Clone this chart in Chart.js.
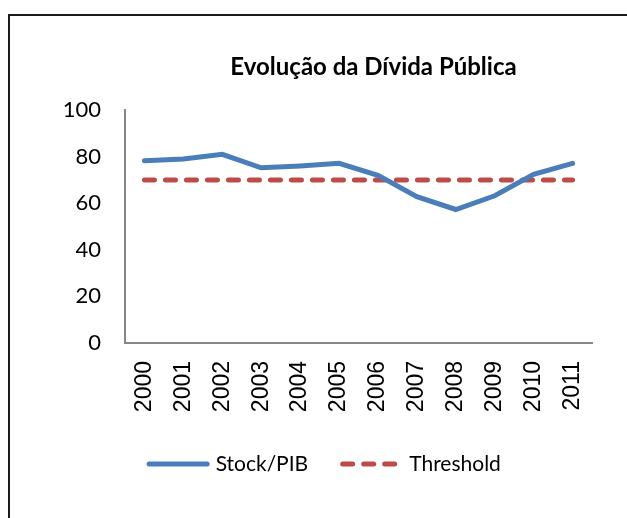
<!DOCTYPE html>
<html>
<head>
<meta charset="utf-8">
<script src="https://cdn.jsdelivr.net/npm/chart.js@4.4.1/dist/chart.umd.min.js"></script>
<style>
    html, body { margin: 0; padding: 0; background: #fff; overflow: hidden; }
    #frame {
        position: absolute; left: 8px; top: 14px;
        width: 700px; height: 600px;
        border: 2px solid #1a1a1a;
    }
    #chart { position: absolute; left: 0; top: 0; }
</style>
</head>
<body>
<div id="frame"></div>
<canvas id="chart" width="627" height="518"></canvas>
<script>
const years = ['2000', '2001', '2002', '2003', '2004', '2005', '2006', '2007', '2008', '2009', '2010', '2011'];
const stockPib = [78.2, 79, 81, 75.2, 76, 77.1, 72, 62.8, 57.3, 63.2, 72.4, 77.1];
const threshold = [70, 70, 70, 70, 70, 70, 70, 70, 70, 70, 70, 70];
const yTicks = [0, 20, 40, 60, 80, 100];
const chartTitle = 'Evolução da Dívida Pública';

// title is offset to the right of the canvas centre, as in the original
const titlePlugin = {
    id: 'offsetTitle',
    afterDraw(chart) {
        const c = chart.ctx;
        c.save();
        c.font = 'bold 24px Lato';
        c.fillStyle = '#000';
        c.textAlign = 'center';
        c.textBaseline = 'alphabetic';
        c.fillText(chartTitle, 373.5, 75);
        c.restore();
    }
};

// line-sample legend (built-in one drops the dash pattern with point styles)
const legendPlugin = {
    id: 'lineLegend',
    afterDraw(chart) {
        const c = chart.ctx;
        const sample = 58, textGap = 8.5, itemGap = 34.5, y = 464, centre = 325;
        c.save();
        c.font = '21px Lato';
        c.textBaseline = 'middle';
        c.textAlign = 'left';
        const items = chart.data.datasets.map(ds => ({ ds, w: c.measureText(ds.label).width }));
        let total = items.reduce((s, it) => s + sample + textGap + it.w, 0) + itemGap * (items.length - 1);
        let x = centre - total / 2;
        items.forEach(({ ds, w }) => {
            c.beginPath();
            c.strokeStyle = ds.borderColor;
            c.lineWidth = ds.borderWidth;
            c.lineCap = ds.borderCapStyle || 'butt';
            c.setLineDash(ds.borderDash || []);
            c.moveTo(x, y);
            c.lineTo(x + sample, y);
            c.stroke();
            c.setLineDash([]);
            c.fillStyle = '#000';
            c.fillText(ds.label, x + sample + textGap, y);
            x += sample + textGap + w + itemGap;
        });
        c.restore();
    }
};

const ctx = document.getElementById('chart').getContext('2d');
new Chart(ctx, {
    type: 'line',
    data: {
        labels: years,
        datasets: [
            {
                label: 'Stock/PIB',
                data: stockPib,
                borderColor: '#4A7EBB',
                backgroundColor: '#4A7EBB',
                borderWidth: 5,
                borderCapStyle: 'round',
                pointRadius: 0,
                tension: 0
            },
            {
                label: 'Threshold',
                data: threshold,
                borderColor: '#BE4B48',
                backgroundColor: '#BE4B48',
                borderWidth: 5,
                borderDash: [10, 11],
                borderCapStyle: 'round',
                pointRadius: 0
            }
        ]
    },
    options: {
        responsive: false,
        animation: false,
        devicePixelRatio: 1,
        layout: { padding: { left: 0, right: 35, top: 110, bottom: 75 } },
        plugins: {
            title: { display: false },
            legend: { display: false },
            tooltip: { enabled: false }
        },
        scales: {
            x: {
                offset: true,
                grid: { display: false, drawTicks: false },
                border: { display: true, color: '#868686', width: 2 },
                ticks: {
                    color: '#000',
                    font: { family: 'Liberation Sans', size: 23 },
                    minRotation: 90,
                    maxRotation: 90,
                    padding: 18
                },
                afterFit: (scale) => { scale.height = 100; }
            },
            y: {
                min: 0,
                max: 100,
                afterBuildTicks: (scale) => { scale.ticks = yTicks.map(v => ({ value: v })); },
                grid: { display: false, drawTicks: false },
                border: { display: true, color: '#868686', width: 2 },
                ticks: {
                    color: '#000',
                    font: { family: 'Lato', size: 22 },
                    padding: 24
                },
                afterFit: (scale) => { scale.width = 125; }
            }
        }
    },
    plugins: [titlePlugin, legendPlugin]
});
</script>
</body>
</html>
